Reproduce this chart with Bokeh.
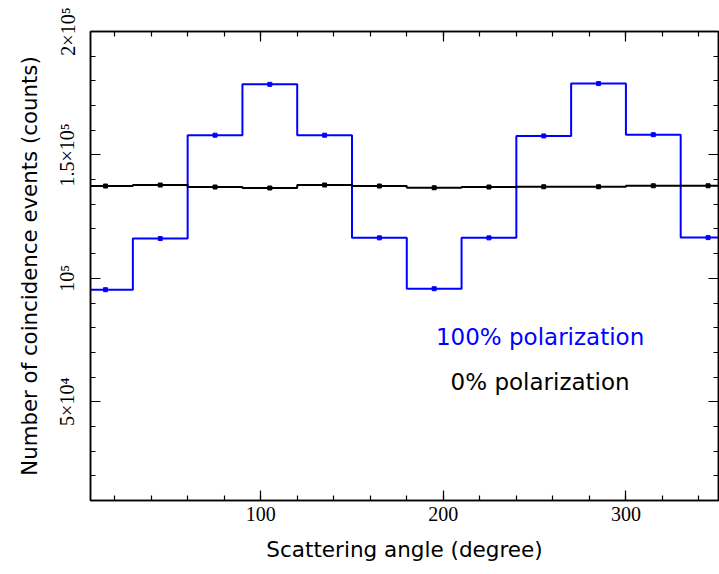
import numpy as np
from bokeh.plotting import figure
from bokeh.models import LinearAxis, FixedTicker, Range1d, Label
from bokeh.embed import file_html
from bokeh.resources import INLINE

# Data: bin centers (degrees) and counts
angles = [15, 45, 75, 105, 135, 165, 195, 225, 255, 285, 315, 345]
bin_width = 30
pol100 = [95400, 116100, 158000, 178600, 158000, 116400,
          95800, 116400, 157700, 178900, 158200, 116500]
pol0 = [137400, 137800, 137000, 136600, 137800, 137400,
        136700, 137000, 137100, 137100, 137500, 137500]

x_ticks = [100, 200, 300]
x_minor = list(range(20, 360, 20))
y_ticks = [50000, 100000, 150000, 200000]
y_tick_labels = {50000: "5×10⁴", 100000: "10⁵", 150000: "1.5×10⁵", 200000: "2×10⁵"}
y_minor = list(range(10000, 210000, 10000))

p = figure(width=719, height=574, output_backend="svg", toolbar_location=None,
           x_range=Range1d(6.8, 350.7), y_range=Range1d(10000, 200000),
           min_border_left=90, min_border_right=1, min_border_top=31, min_border_bottom=74)
p.xgrid.visible = False
p.ygrid.visible = False
p.outline_line_color = "black"
p.outline_line_width = 1.5
p.background_fill_color = "white"
p.border_fill_color = "white"

def steps(centers, vals):
    c = np.asarray(centers, dtype=float)
    v = np.asarray(vals, dtype=float)
    edges = np.append(c - bin_width / 2, c[-1] + bin_width / 2)
    return edges, np.append(v, v[-1])

ex, ey = steps(angles, pol100)
p.step(ex, ey, mode="after", line_color="#0000ff", line_width=2)
p.scatter(angles, pol100, marker="square", size=4, color="#0000ff")

ex0, ey0 = steps(angles, pol0)
p.step(ex0, ey0, mode="after", line_color="black", line_width=2)
p.scatter(angles, pol0, marker="square", size=4, color="black")

serif = "Liberation Serif"
sans = "DejaVu Sans"

def style_axis(ax, ticks, minor, labels=True):
    ax.ticker = FixedTicker(ticks=ticks, minor_ticks=minor)
    ax.major_tick_in = 10
    ax.major_tick_out = 0
    ax.minor_tick_in = 5
    ax.minor_tick_out = 0
    ax.axis_line_color = "black"
    ax.axis_line_width = 1.5
    ax.major_tick_line_color = "black"
    ax.minor_tick_line_color = "black"
    ax.major_tick_line_width = 1.2
    ax.minor_tick_line_width = 1.2
    if not labels:
        ax.major_label_overrides = {t: "" for t in ticks}
        ax.major_label_standoff = 0

xa = p.xaxis[0]
style_axis(xa, x_ticks, x_minor)
xa.major_label_text_font = serif
xa.major_label_text_font_size = "20px"
xa.major_label_text_color = "black"
xa.major_label_standoff = 6
xa.axis_label = "Scattering angle (degree)"
xa.axis_label_text_font = sans
xa.axis_label_text_font_size = "21.5px"
xa.axis_label_text_font_style = "normal"
xa.axis_label_text_color = "black"
xa.axis_label_standoff = 13

ya = p.yaxis[0]
style_axis(ya, y_ticks, y_minor)
ya.major_label_overrides = y_tick_labels
ya.major_label_orientation = "vertical"
ya.major_label_text_font = serif
ya.major_label_text_font_size = "20px"
ya.major_label_text_color = "black"
ya.major_label_standoff = 12
ya.axis_label = "Number of coincidence events (counts)"
ya.axis_label_text_font = sans
ya.axis_label_text_font_size = "21.3px"
ya.axis_label_text_font_style = "normal"
ya.axis_label_text_color = "black"
ya.axis_label_standoff = 12

ra = LinearAxis()
style_axis(ra, y_ticks, y_minor, labels=False)
p.add_layout(ra, "right")
ta = LinearAxis()
style_axis(ta, x_ticks, x_minor, labels=False)
p.add_layout(ta, "above")

p.add_layout(Label(x=253, y=76200, text="100% polarization", text_align="center",
                   text_baseline="alphabetic", text_color="#0000ff",
                   text_font=sans, text_font_size="23px"))
p.add_layout(Label(x=253, y=57900, text="0% polarization", text_align="center",
                   text_baseline="alphabetic", text_color="black",
                   text_font=sans, text_font_size="23px"))

open("out.html", "w").write(file_html(p, INLINE))
